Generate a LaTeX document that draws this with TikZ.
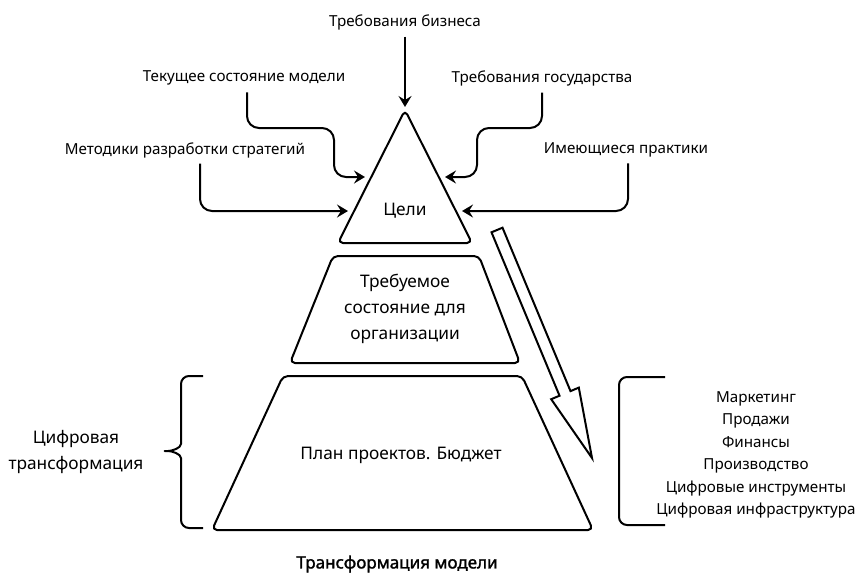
\documentclass[tikz,border=0pt]{standalone}
\usepackage{fontspec}
\setmainfont{Noto Sans}
\newfontfamily\titlefont{Noto Sans}[FakeBold=1.6]
\usetikzlibrary{arrows.meta}

\begin{document}
\begin{tikzpicture}[x=1pt, y=-1pt, line width=2pt, line join=round,
    lbl/.style={font=\fontsize{15.2}{22.5}\selectfont, align=center, inner sep=1pt},
    big/.style={font=\fontsize{17.3}{26}\selectfont, align=center, inner sep=1pt},
    arr/.style={-{Stealth[length=11pt,width=13pt,inset=4pt]}, rounded corners=12pt},
    tier/.style={draw, rounded corners=5pt}]
  \useasboundingbox (0, 0) rectangle (858, 574);

  % pyramid
  \draw[tier] (405, 110) -- (472, 243) -- (338, 243) -- cycle;
  \draw[tier] (333, 256) -- (479, 256) -- (520, 363) -- (290, 363) -- cycle;
  \draw[tier] (283, 376) -- (522, 376) -- (593, 530) -- (212, 530) -- cycle;

  \node (0) at (405, 211) [big] {Цели};
  \node (1) at (405, 309) [big] {Требуемое\\состояние для\\организации};
  \node (2) at (401, 455) [big] {План проектов. Бюджет};

  % inputs
  \node (3) at (405, 22) [lbl] {Требования бизнеса};
  \node (4) at (244, 78) [lbl] {Текущее состояние модели};
  \node (5) at (542, 78) [lbl] {Требования государства};
  \node (6) at (185, 150) [lbl] {Методики разработки стратегий};
  \node (7) at (626, 150) [lbl] {Имеющиеся практики};

  \coordinate (a) at (405, 107);
  \coordinate (b) at (365, 177);
  \coordinate (c) at (445, 177);
  \coordinate (d) at (348, 211);
  \coordinate (e) at (462, 211);

  \draw[arr, shorten <=5pt] (3.south) -- (a);
  \draw[arr, shorten <=5pt] ([xshift=3pt]4.south) |- (334, 128) |- (b);
  \draw[arr, shorten <=5pt] (5.south) |- (477, 128) |- (c);
  \draw[arr, shorten <=4pt] ([xshift=15pt]6.south) |- (d);
  \draw[arr, shorten <=4pt] ([xshift=2pt]7.south) |- (e);

  % hollow arrow
  \draw[line join=miter] (502.5, 227.7) -- (570.5, 391.1) -- (578.8, 387.6) -- (592, 458)
    -- (551.2, 399.2) -- (559.5, 395.7) -- (491.5, 232.3) -- cycle;

  % left brace
  \node (8) at (76, 452) [big] {Цифровая\\трансформация};
  \draw[rounded corners=8pt] (203, 376) -- (181, 376) -- (181, 436)
    .. controls (181, 448) and (172, 451) .. (160, 451)
    .. controls (172, 451) and (181, 454) .. (181, 466) -- (181, 528) -- (203, 528);

  % right bracket
  \node (9) at (756, 455) [lbl] {Маркетинг\\Продажи\\Финансы\\Производство\\Цифровые инструменты\\Цифровая инфраструктура};
  \draw[rounded corners=8pt] (665, 377) -- (619, 377) -- (619, 525) -- (665, 525);

  \node (10) at (397, 564) [lbl, font=\fontsize{17}{20}\selectfont\titlefont] {Трансформация модели};
\end{tikzpicture}
\end{document}
